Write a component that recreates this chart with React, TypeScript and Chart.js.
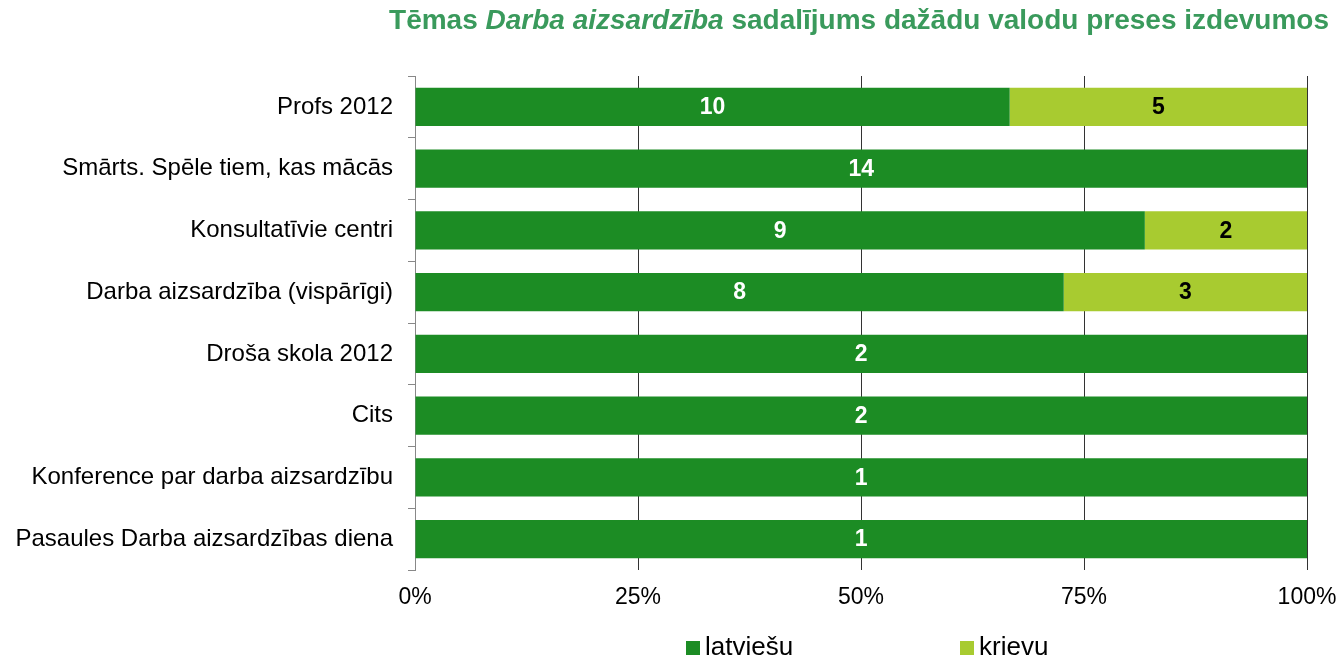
import React, { useEffect, useRef } from "react";
import { Chart, registerables } from "chart.js";
Chart.register(...registerables);

const categories = [
  "Profs 2012",
  "Smārts. Spēle tiem, kas mācās",
  "Konsultatīvie centri",
  "Darba aizsardzība (vispārīgi)",
  "Droša skola 2012",
  "Cits",
  "Konference par darba aizsardzību",
  "Pasaules Darba aizsardzības diena",
];
const latviesu = [10, 14, 9, 8, 2, 2, 1, 1];
const krievu = [5, 0, 2, 3, 0, 0, 0, 0];
const seriesNames = ["latviešu", "krievu"];
const seriesColors = ["#1c8c24", "#a8cb30"];
const labelColors = ["#ffffff", "#000000"];
const xTickValues = [0, 25, 50, 75, 100];
const titleParts = [
  { text: "Tēmas ", italic: false },
  { text: "Darba aizsardzība", italic: true },
  { text: " sadalījums dažādu valodu preses izdevumos", italic: false },
];

const FONT = "'Liberation Sans', Arial, sans-serif";

export default function App() {
  const ref = useRef<HTMLCanvasElement>(null);
  useEffect(() => {
    const counts = [latviesu, krievu];
    const totals = latviesu.map((v, i) => v + krievu[i]);
    const pct = counts.map((arr) => arr.map((v, i) => (v / totals[i]) * 100));

    const overlay = {
      id: "overlay",
      afterDatasetsDraw(chart: any) {
        const ctx = chart.ctx;
        ctx.save();
        ctx.font = `bold 23px ${FONT}`;
        ctx.textAlign = "center";
        ctx.textBaseline = "middle";
        chart.data.datasets.forEach((ds: any, di: number) => {
          const meta = chart.getDatasetMeta(di);
          meta.data.forEach((el: any, i: number) => {
            const c = counts[di][i];
            if (!c) return;
            ctx.fillStyle = labelColors[di];
            ctx.fillText(String(c), (el.x + el.base) / 2, el.y + 1);
          });
        });
        ctx.restore();
      },
      afterDraw(chart: any) {
        const ctx = chart.ctx;
        const ca = chart.chartArea;
        ctx.save();
        // title
        const fonts = titleParts.map((p) => `${p.italic ? "italic " : ""}bold 28px ${FONT}`);
        let total = 0;
        const widths = titleParts.map((p, i) => {
          ctx.font = fonts[i];
          const w = ctx.measureText(p.text).width;
          total += w;
          return w;
        });
        let x = (ca.left + ca.right) / 2 - 2 - total / 2;
        ctx.fillStyle = "#3a9a5c";
        ctx.textBaseline = "alphabetic";
        ctx.textAlign = "left";
        titleParts.forEach((p, i) => {
          ctx.font = fonts[i];
          ctx.fillText(p.text, x, 29);
          x += widths[i];
        });
        // legend
        const cx = (ca.left + ca.right) / 2;
        const legendX = [cx - 175, cx + 99];
        ctx.font = `26px ${FONT}`;
        ctx.textBaseline = "middle";
        seriesNames.forEach((n, i) => {
          ctx.fillStyle = seriesColors[i];
          ctx.fillRect(legendX[i], 641, 14, 14);
          ctx.fillStyle = "#000";
          ctx.fillText(n, legendX[i] + 19, 648);
        });
        ctx.restore();
      },
    };

    const chart = new Chart(ref.current!, {
      type: "bar",
      data: {
        labels: categories,
        datasets: seriesNames.map((n, i) => ({
          label: n,
          data: pct[i],
          backgroundColor: seriesColors[i],
          borderWidth: 0,
          barPercentage: 0.62,
          categoryPercentage: 1,
        })),
      },
      options: {
        indexAxis: "y",
        animation: false,
        responsive: false,
        layout: { padding: { top: 76, right: 32, left: 0, bottom: 0 } },
        plugins: { legend: { display: false }, title: { display: false }, tooltip: { enabled: false } },
        scales: {
          x: {
            stacked: true,
            min: 0,
            max: 100,
            afterBuildTicks: (s: any) => {
              s.ticks = xTickValues.map((v) => ({ value: v }));
            },
            afterFit: (s: any) => {
              s.height = 89;
              s.paddingLeft = 0;
              s.paddingRight = 0;
            },
            ticks: {
              callback: (v: any) => `${v}%`,
              color: "#000",
              font: { family: FONT, size: 23 },
              padding: 14,
              maxRotation: 0,
            },
            grid: {
              drawTicks: false,
              color: (c: any) => (c.index === 0 ? "rgba(0,0,0,0)" : "#333"),
              lineWidth: 1,
            },
            border: { display: false },
          },
          y: {
            stacked: true,
            afterFit: (s: any) => {
              s.width = 415;
              s.paddingTop = 0;
              s.paddingBottom = 0;
            },
            ticks: {
              color: "#000",
              font: { family: FONT, size: 24 },
              padding: 15,
            },
            grid: {
              drawOnChartArea: false,
              drawTicks: true,
              tickLength: 7,
              offset: true,
              color: "#888",
            },
            border: { display: true, color: "#888" },
          },
        },
      },
      plugins: [overlay],
    } as any);
    return () => chart.destroy();
  }, []);
  return (
    <div style={{ position: "absolute", left: 0, top: 0, width: 1339, height: 659, background: "#fff" }}>
      <canvas ref={ref} width={1339} height={659} style={{ display: "block" }} />
    </div>
  );
}
